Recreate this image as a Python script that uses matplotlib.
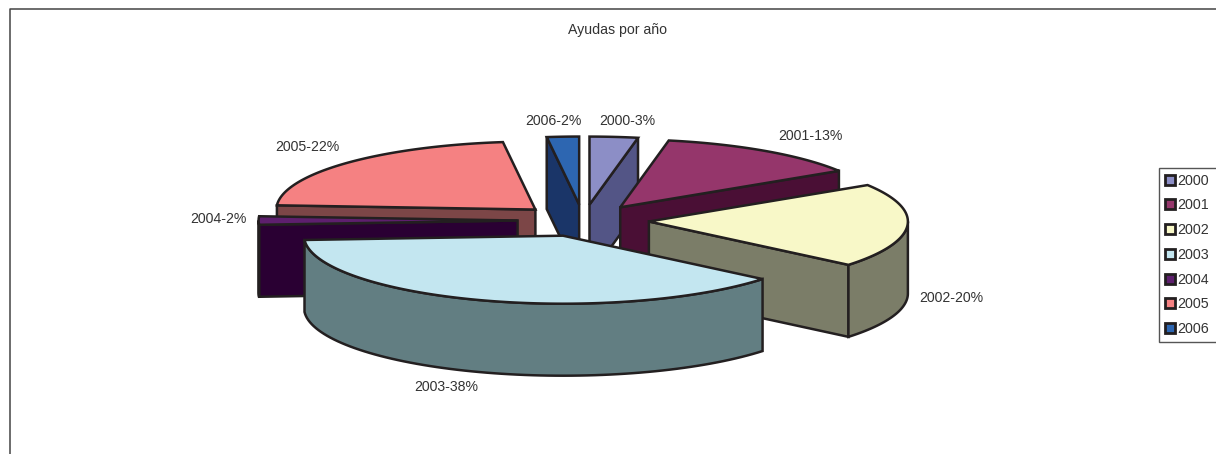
import numpy as np
import matplotlib
matplotlib.use('Agg')
import matplotlib.pyplot as plt
from matplotlib.patches import Polygon, Patch

plt.rcParams['font.family'] = ['Liberation Sans', 'DejaVu Sans']

title = 'Ayudas por año'
years = ['2000', '2001', '2002', '2003', '2004', '2005', '2006']
percents = [3, 13, 20, 38, 2, 22, 2]

top_colors = ['#8C8EC6', '#95366B', '#F8F8C8', '#C3E6F0', '#5E1F6E', '#F58182', '#2D66B1']
side_colors = ['#535586', '#4A0F35', '#7B7D68', '#627E82', '#2A0033', '#7C4647', '#1A3568']
ink = '#231F20'
text_color = '#333333'

# pixel geometry of the 3d pie
cx, cy = 583.3, 220.5
rx, ry = 259, 68
depth = 72
explode_x, explode_y = 0.2537, 0.235

# back to front
draw_order = [5, 6, 0, 4, 1, 2, 3]
label_pos = [(627, 121), (810, 136), (951, 298), (446, 387), (218, 219), (307, 147), (553, 121)]


def rim(a, x0, y0):
    return np.column_stack([x0 + rx * np.sin(a), y0 - ry * np.cos(a)])


def draw_slice(ax, start, end, top, side):
    mid = (start + end) / 2
    x0 = cx + explode_x * rx * np.sin(mid)
    y0 = cy - explode_y * ry * np.cos(mid)
    apex = np.array([[x0, y0]])
    down = np.array([0, depth])
    style = dict(edgecolor=ink, linewidth=1.8, joinstyle='miter')

    for a, visible in ((start, start > np.pi), (end, end < np.pi)):
        if visible:
            pts = np.vstack([apex, rim(np.array([a]), x0, y0)])
            ax.add_patch(Polygon(np.vstack([pts, pts[::-1] + down]), facecolor=side, **style))

    a0, a1 = max(start, np.pi / 2), min(end, 3 * np.pi / 2)
    if a1 > a0:
        arc = rim(np.linspace(a0, a1, 80), x0, y0)
        ax.add_patch(Polygon(np.vstack([arc, arc[::-1] + down]), facecolor=side, **style))

    arc = rim(np.linspace(start, end, 120), x0, y0)
    ax.add_patch(Polygon(np.vstack([apex, arc]), facecolor=top, **style))


fig = plt.figure(figsize=(12.16, 4.54), dpi=100)
ax = fig.add_axes([0, 0, 1, 1])
ax.set_xlim(0, 1216)
ax.set_ylim(454, 0)
ax.axis('off')

# chart frame, runs off the right and bottom of the picture
ax.plot([10, 10, 1216], [454, 9, 9], color='#444444', linewidth=1.1)

edges = np.cumsum([0] + percents) / sum(percents) * 2 * np.pi
for i in draw_order:
    draw_slice(ax, edges[i], edges[i + 1], top_colors[i], side_colors[i])

ax.text(617, 30, title, ha='center', va='center', fontsize=10.2, color=text_color)
for year, pct, (x, y) in zip(years, percents, label_pos):
    ax.text(x, y, f'{year}-{pct}%', ha='center', va='center', fontsize=10.2, color=text_color)

handles = [Patch(facecolor=c, edgecolor=ink, linewidth=2) for c in top_colors]
leg = ax.legend(handles, years, loc='upper left',
                bbox_to_anchor=(1159 / 1216, 1 - 342 / 454, 80 / 1216, 174 / 454),
                bbox_transform=ax.transAxes, mode='expand', borderaxespad=0,
                fontsize=10.3, fancybox=False, framealpha=1, edgecolor='#555555',
                labelspacing=0.75, handlelength=0.7, handleheight=0.7,
                handletextpad=0.2, borderpad=0.4, labelcolor=text_color)
leg.get_frame().set_linewidth(1.0)

fig.savefig('out.png', dpi=100)
